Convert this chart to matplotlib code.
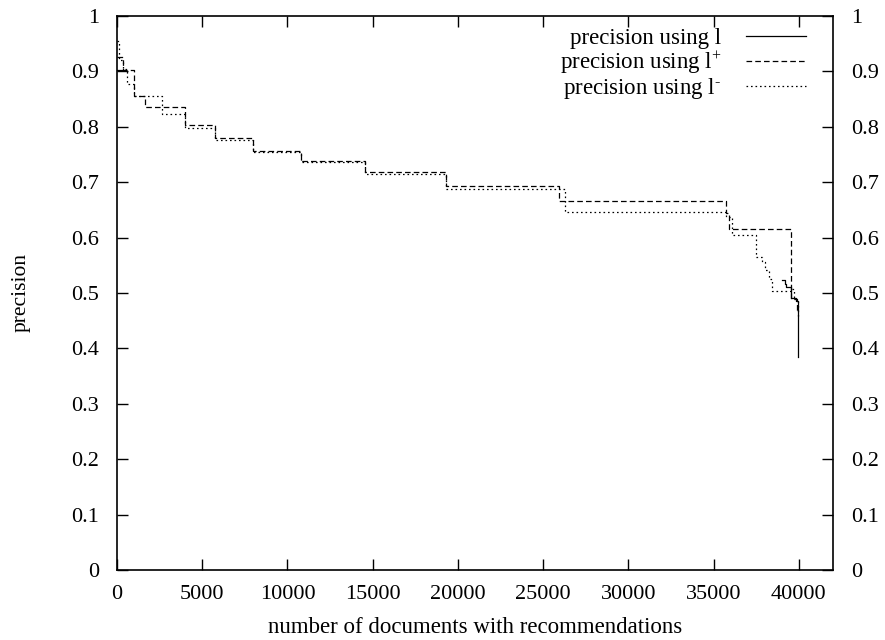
import numpy as np
import matplotlib
matplotlib.use("Agg")
import matplotlib.pyplot as plt

plt.rcParams['font.family'] = ['Liberation Serif', 'DejaVu Serif']
plt.rcParams['mathtext.fontset'] = 'custom'
plt.rcParams['mathtext.rm'] = 'Liberation Serif'
plt.rcParams['mathtext.it'] = 'Liberation Serif:italic'

# precision using l (solid) - visible parts only
l_x = [0, 334, np.nan, 39030, 39170, 39250, 39520, 39820, 39970]
l_y = [0.903, 0.903, np.nan, 0.523, 0.517, 0.511, 0.491, 0.486, 0.384]

# precision using l+ (dashed)
lp_x = [0, 334, 1013, 1640, 3983, 5740, 7950, 10820, 14530, 19300, 25920,
        35700, 35900, 39560, 39900, 39970]
lp_y = [0.926, 0.903, 0.855, 0.835, 0.803, 0.779, 0.756, 0.738, 0.718, 0.694,
        0.666, 0.644, 0.616, 0.490, 0.470, 0.470]

# precision using l- (dotted)
lm_x = [0, 117, 334, 568, 1013, 2618, 3983, 5740, 7950, 10820, 14530, 19300,
        26300, 35700, 36100, 37470, 37860, 38020, 38250, 38410, 38445, 39520,
        39700, 39970]
lm_y = [0.955, 0.920, 0.905, 0.878, 0.855, 0.823, 0.798, 0.776, 0.754, 0.736,
        0.715, 0.687, 0.646, 0.637, 0.604, 0.565, 0.556, 0.541, 0.526, 0.514,
        0.503, 0.508, 0.490, 0.455]

x_ticks = [0, 5000, 10000, 15000, 20000, 25000, 30000, 35000, 40000]
y_ticks = [0, 0.1, 0.2, 0.3, 0.4, 0.5, 0.6, 0.7, 0.8, 0.9, 1]
y_labels = ['0', '0.1', '0.2', '0.3', '0.4', '0.5', '0.6', '0.7', '0.8', '0.9', '1']

fig = plt.figure(figsize=(8.85, 6.4), dpi=100)
ax = fig.add_axes([117/885, 1 - 570/640, (833 - 117)/885, (570 - 16)/640])

ax.plot(l_x, l_y, color='black', lw=0.9, drawstyle='steps-post',
        label='precision using l')
ax.plot(lp_x, lp_y, color='black', lw=0.9, drawstyle='steps-post',
        dashes=(4.5, 2.5), label='precision using l$^{+}$')
ax.plot(lm_x, lm_y, color='black', lw=0.9, drawstyle='steps-post',
        dashes=(1.3, 2.3), label='precision using l$^{\\text{-}}$')

ax.set_xlim(0, 42000)
ax.set_ylim(0, 1)
ax.set_xticks(x_ticks)
ax.set_xticklabels([str(t) for t in x_ticks])
ax.set_yticks(y_ticks)
ax.set_yticklabels(y_labels)

ax.tick_params(axis='both', which='major', direction='in', length=8, width=1,
               labelsize=16, top=True, right=True, labelright=True)
ax.tick_params(axis='y', pad=13)
ax.tick_params(axis='x', pad=11)
for s in ax.spines.values():
    s.set_linewidth(1.2)

ax.set_xlabel('number of documents with recommendations', fontsize=16.5, labelpad=9)
ax.set_ylabel('precision', fontsize=15.5, labelpad=29)

leg = ax.legend(loc='upper right', bbox_to_anchor=(806/885, 1 - 28/640),
                bbox_transform=fig.transFigure, frameon=False, markerfirst=False,
                fontsize=16.5, handlelength=2.6, handletextpad=1.1,
                labelspacing=0.0, borderpad=0, borderaxespad=0)
for t in leg.get_texts():
    t.set_ha('right')
leg._legend_box.align = 'right'

fig.savefig('out.png', dpi=100)
